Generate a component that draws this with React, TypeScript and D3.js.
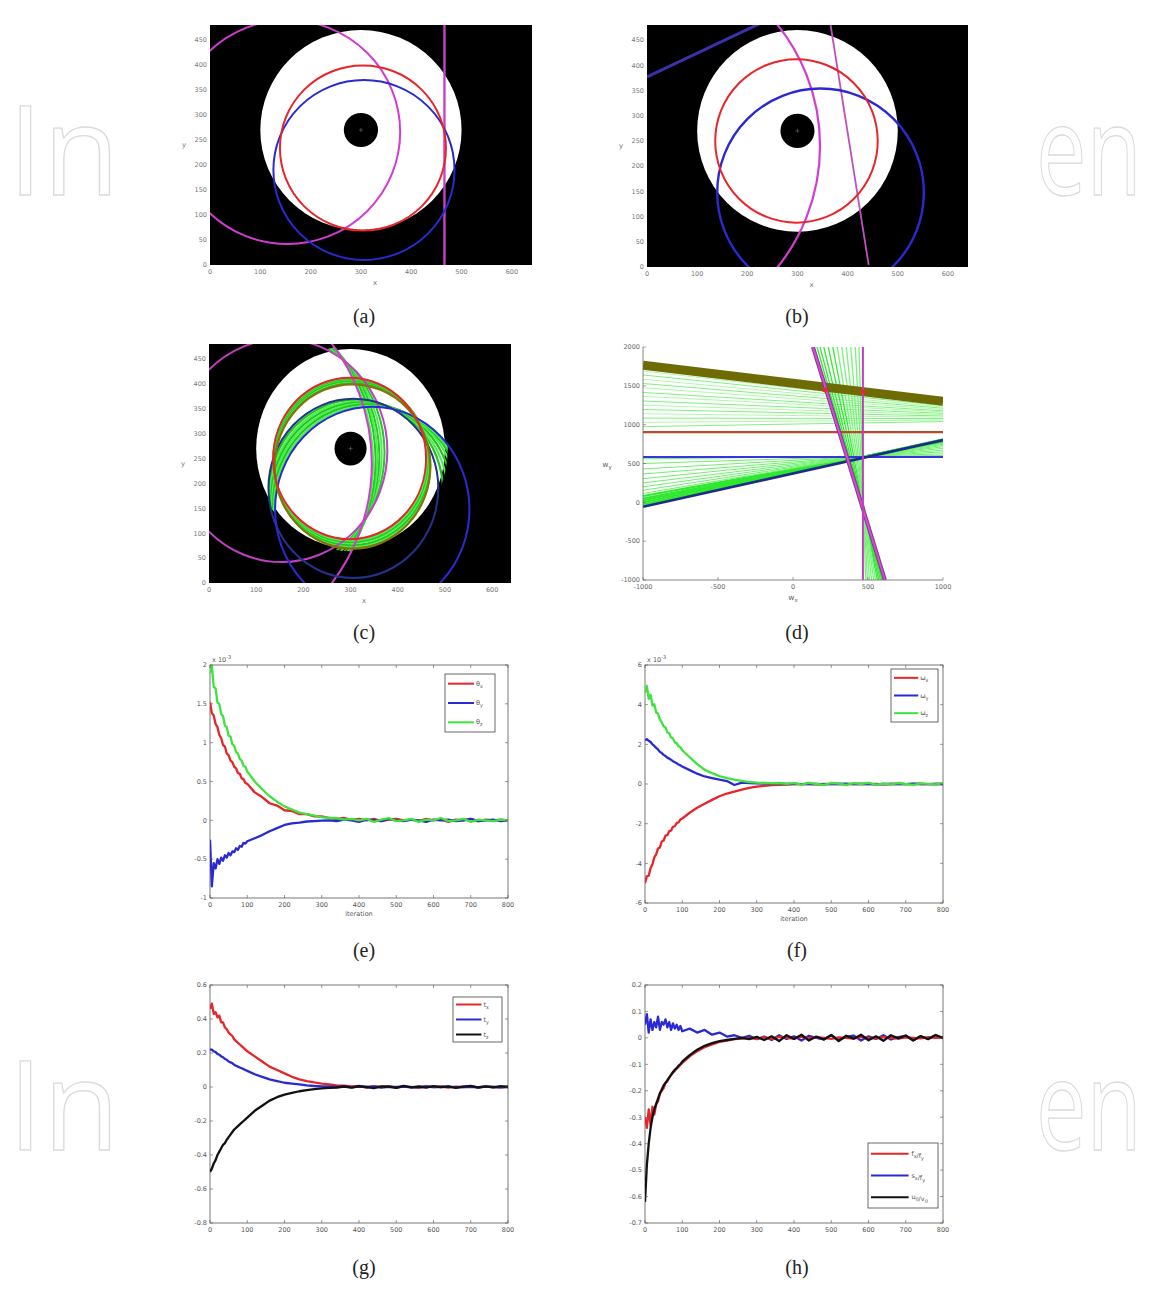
import * as d3 from "d3";

// sample positions (iteration index) shared by all convergence curves
const ITER = [0, 5, 10, 15, 20, 25, 30, 35, 40, 45, 50, 55, 60, 65, 70, 75, 80, 85, 90, 95, 100,
  120, 140, 160, 180, 200, 220, 240, 260, 280, 300, 320, 340, 360, 380, 400, 420, 440, 460, 480,
  500, 520, 540, 560, 580, 600, 620, 640, 660, 680, 700, 720, 740, 760, 780, 800];

// (e) values x 10^-3
const E_RED = [1.52, 1.38, 1.35, 1.24, 1.2, 1.1, 1.06, 0.97, 0.95, 0.86, 0.84, 0.77, 0.75, 0.69, 0.67, 0.61, 0.6, 0.54, 0.53, 0.48, 0.47,
  0.36, 0.3, 0.22, 0.19, 0.13, 0.12, 0.08, 0.08, 0.05, 0.05, 0.03, 0.02, 0.03, 0.01, 0.02, 0.0, 0.02, -0.01, 0.01, 0.02,
  0.0, 0.01, -0.01, 0.02, 0.0, 0.01, -0.02, 0.01, 0.0, 0.02, -0.01, 0.01, 0.0, 0.01, 0.0];
const E_BLUE = [-0.25, -0.85, -0.55, -0.62, -0.5, -0.56, -0.48, -0.52, -0.45, -0.48, -0.42, -0.45, -0.4, -0.41, -0.36, -0.38, -0.33, -0.34, -0.29, -0.3, -0.27,
  -0.23, -0.19, -0.14, -0.1, -0.06, -0.04, -0.03, -0.015, -0.01, -0.005, 0.0, -0.01, 0.01, 0.0, -0.02, 0.01, 0.0, -0.01, 0.02, 0.0,
  -0.01, 0.01, 0.0, -0.02, 0.01, 0.0, 0.01, -0.01, 0.0, 0.02, -0.01, 0.0, 0.01, -0.01, 0.0];
const E_GREEN = [1.9, 1.99, 1.72, 1.7, 1.52, 1.5, 1.37, 1.34, 1.22, 1.2, 1.09, 1.08, 0.98, 0.96, 0.88, 0.86, 0.79, 0.77, 0.7, 0.69, 0.63,
  0.5, 0.4, 0.31, 0.24, 0.18, 0.14, 0.1, 0.08, 0.06, 0.04, 0.03, 0.03, 0.01, 0.02, 0.0, 0.02, -0.02, 0.01, 0.03, -0.01,
  0.0, 0.02, -0.02, 0.01, 0.0, 0.03, -0.01, 0.0, 0.02, -0.02, 0.01, 0.0, -0.01, 0.01, 0.0];

// (f) values x 10^-3
const F_RED = [-5.0, -4.65, -4.62, -4.25, -4.05, -3.7, -3.55, -3.25, -3.2, -2.9, -2.85, -2.6, -2.58, -2.38, -2.35, -2.16, -2.13, -1.97, -1.93, -1.79, -1.74,
  -1.45, -1.2, -1.0, -0.8, -0.62, -0.48, -0.38, -0.28, -0.2, -0.13, -0.09, -0.06, -0.04, -0.03, -0.02, -0.01, 0.0, -0.02, 0.01, -0.01,
  0.0, -0.02, 0.01, 0.0, -0.01, 0.01, -0.02, 0.0, 0.01, -0.01, 0.0, 0.01, -0.01, 0.0, 0.0];
const F_BLUE = [2.2, 2.26, 2.18, 2.12, 2.0, 1.92, 1.82, 1.74, 1.62, 1.56, 1.47, 1.41, 1.33, 1.28, 1.22, 1.15, 1.1, 1.05, 0.98, 0.94, 0.88,
  0.7, 0.52, 0.38, 0.3, 0.22, 0.15, -0.05, 0.07, 0.05, 0.03, 0.02, 0.01, 0.03, 0.0, 0.02, -0.01, 0.01, 0.0, -0.02, 0.01,
  0.0, 0.02, -0.01, 0.0, 0.01, -0.02, 0.0, 0.01, 0.0, -0.01, 0.02, 0.0, -0.01, 0.01, 0.0];
const F_GREEN = [4.6, 4.95, 4.3, 4.5, 3.95, 4.02, 3.6, 3.55, 3.25, 3.12, 2.9, 2.86, 2.6, 2.56, 2.35, 2.3, 2.1, 2.06, 1.9, 1.85, 1.7,
  1.35, 1.0, 0.72, 0.55, 0.4, 0.3, 0.22, 0.16, 0.1, 0.07, 0.05, 0.03, 0.05, 0.01, 0.04, -0.03, 0.06, 0.0, -0.04, 0.05,
  0.02, -0.05, 0.04, 0.0, 0.06, -0.03, 0.02, -0.02, 0.05, 0.0, -0.04, 0.03, 0.01, -0.02, 0.04];

// (g)
const G_RED = [0.46, 0.49, 0.43, 0.44, 0.41, 0.42, 0.38, 0.38, 0.35, 0.34, 0.32, 0.31, 0.3, 0.28, 0.27, 0.26, 0.25, 0.24, 0.23, 0.22, 0.21,
  0.18, 0.15, 0.12, 0.1, 0.08, 0.06, 0.045, 0.035, 0.027, 0.02, 0.015, 0.01, 0.008, 0.004, 0.006, -0.003, 0.004, 0.0, 0.005, -0.004,
  0.003, 0.0, -0.005, 0.004, 0.0, 0.003, -0.004, 0.002, 0.0, 0.004, -0.003, 0.002, 0.0, -0.002, 0.003];
const G_BLUE = [0.22, 0.22, 0.21, 0.205, 0.195, 0.19, 0.18, 0.175, 0.165, 0.16, 0.15, 0.145, 0.14, 0.13, 0.125, 0.12, 0.115, 0.11, 0.105, 0.1, 0.095,
  0.075, 0.06, 0.045, 0.035, 0.025, 0.02, 0.015, 0.01, 0.006, 0.004, 0.003, 0.0, 0.004, -0.002, 0.002, 0.0, 0.003, -0.003, 0.001, 0.0,
  0.002, -0.002, 0.0, 0.003, -0.001, 0.0, 0.002, -0.002, 0.0, 0.001, -0.001, 0.002, 0.0, -0.002, 0.0];
const G_BLACK = [-0.5, -0.48, -0.45, -0.43, -0.4, -0.38, -0.36, -0.34, -0.33, -0.31, -0.295, -0.28, -0.265, -0.25, -0.24, -0.23, -0.22, -0.21, -0.2, -0.19, -0.18,
  -0.14, -0.11, -0.08, -0.06, -0.045, -0.035, -0.025, -0.018, -0.012, -0.008, -0.005, -0.003, 0.003, -0.004, 0.005, 0.0, -0.006, 0.004, 0.002, -0.005,
  0.006, -0.002, 0.003, -0.004, 0.005, -0.001, 0.004, -0.005, 0.002, 0.006, -0.003, 0.004, -0.002, 0.005, 0.0];

// (h)
const H_BLUE = [0.05, 0.09, 0.02, 0.07, 0.03, 0.06, 0.04, 0.08, 0.03, 0.06, 0.05, 0.07, 0.04, 0.06, 0.03, 0.055, 0.035, 0.05, 0.03, 0.045, 0.025,
  0.035, 0.02, 0.03, 0.012, 0.02, 0.005, 0.01, 0.0, 0.008, -0.005, 0.005, -0.008, 0.01, -0.004, 0.006, -0.01, 0.008, 0.0, -0.006, 0.01,
  -0.008, 0.004, 0.009, -0.01, 0.006, -0.004, 0.01, -0.006, 0.003, 0.008, -0.009, 0.005, -0.003, 0.01, 0.0];
const H_RED = [-0.3, -0.34, -0.27, -0.33, -0.26, -0.29, -0.25, -0.24, -0.21, -0.2, -0.19, -0.17, -0.165, -0.15, -0.14, -0.13, -0.125, -0.115, -0.11, -0.1, -0.095,
  -0.07, -0.05, -0.035, -0.025, -0.015, -0.01, -0.005, -0.003, 0.0, -0.004, 0.003, -0.005, 0.004, 0.0, -0.003, 0.005, -0.002, 0.003, 0.0, -0.004,
  0.002, 0.0, -0.003, 0.004, 0.0, -0.002, 0.003, 0.0, -0.003, 0.002, 0.0, -0.002, 0.003, 0.0, 0.001];
const H_BLACK = [-0.62, -0.48, -0.4, -0.34, -0.3, -0.27, -0.25, -0.23, -0.21, -0.195, -0.18, -0.17, -0.16, -0.15, -0.14, -0.13, -0.12, -0.115, -0.105, -0.1, -0.09,
  -0.065, -0.045, -0.03, -0.02, -0.012, -0.008, -0.004, 0.0, -0.005, 0.004, -0.008, 0.006, -0.012, 0.01, -0.004, 0.012, -0.01, 0.005, -0.006, 0.011,
  -0.012, 0.008, -0.003, 0.012, -0.009, 0.006, -0.011, 0.01, -0.002, 0.009, -0.01, 0.007, -0.005, 0.011, 0.0];

const E_LABELS = ["θ_x", "θ_y", "θ_z"];
const F_LABELS = ["ω_x", "ω_y", "ω_z"];
const G_LABELS = ["t_x", "t_y", "t_z"];
const H_LABELS = ["f_x/f_y", "s_x/f_y", "u_0/v_0"];

const SERIES_X_TICKS = [0, 100, 200, 300, 400, 500, 600, 700, 800];
const E_Y_TICKS = [-1, -0.5, 0, 0.5, 1, 1.5, 2];
const F_Y_TICKS = [-6, -4, -2, 0, 2, 4, 6];
const G_Y_TICKS = [-0.8, -0.6, -0.4, -0.2, 0, 0.2, 0.4, 0.6];
const H_Y_TICKS = [-0.7, -0.6, -0.5, -0.4, -0.3, -0.2, -0.1, 0, 0.1, 0.2];

// image panels: pixel coordinates in a 640 x 480 frame, [cx, cy, r]
const IMG_X_TICKS = [0, 100, 200, 300, 400, 500, 600];
const IMG_Y_TICKS = [0, 50, 100, 150, 200, 250, 300, 350, 400, 450];
const DISK = [300, 270, 200];
const HOLE = [300, 270, 34];
const RED_A = [304, 234, 165];
const BLUE_A = [306, 190, 180];
const MAG_A = [154, 266, 224];
const MAG_LINE_A = [466, 0, 466, 480];
const RED_B = [298, 250, 162];
const BLUE_B = [346, 148, 206];
const MAG_B = [-38, 240, 383];
const MAG_LINE_B = [366, 480, 442, 4];
const BLUE_LINE_B = [0, 377, 240, 490];
const RED_STEPS = [[303.5, 236, 165.5], [303, 239, 166], [302, 241, 165], [301, 244, 164.5], [300, 246, 163.5], [299, 248, 163]];
const BLUE_STEPS = [[312, 184, 184], [318, 177, 188], [324, 171, 192], [330, 165, 196], [336, 159, 200], [341, 153, 203]];
const MAG_STEPS = [[130, 262, 242], [104, 259, 262], [76, 255, 285], [46, 251, 311], [16, 247, 337], [-12, 243, 360]];

// (d) parameter space: wide lines [y at x=-1000, y at x=1000], steep lines [x at y=2000, x at y=-1000]
const D_X_TICKS = [-1000, -500, 0, 500, 1000];
const D_Y_TICKS = [-1000, -500, 0, 500, 1000, 1500, 2000];
const UPPER_FAN = [[1690, 1255], [1640, 1245], [1585, 1228], [1530, 1212], [1475, 1196], [1415, 1178], [1365, 1165],
  [1305, 1146], [1250, 1130], [1195, 1112], [1140, 1096], [1085, 1078], [1030, 1060], [975, 1040]];
const LOWER_FAN = [[-45, 812], [-25, 806], [0, 800], [25, 792], [50, 784], [80, 774], [115, 762], [155, 748],
  [200, 732], [250, 715], [305, 695], [365, 672], [430, 650], [500, 625], [560, 603]];
const STEEP_FAN = [[160, 600], [180, 592], [205, 583], [235, 572], [265, 562], [295, 550], [325, 538], [355, 524],
  [385, 510], [415, 496], [440, 484]];
const OLIVE_BAND = [1765, 1300];
const RED_LEVEL = [905, 905];
const BLUE_LEVEL = [585, 585];
const BLUE_SLANT = [-57, 802];
const MAG_SLANT = [133, 613];
const MAG_VERT = [466, 466];
const D_MARKS = [[213, 1445], [466, 1423]];

type Box = { x0: number; x1: number; y0: number; y1: number };
type Scale = d3.ScaleLinear<number, number>;

const TICK_FONT = "DejaVu Sans, sans-serif";

const ring = (x: Scale, y: Scale, c: number[], stroke: string, width: number, key?: string | number) => (
  <ellipse key={key} cx={x(c[0])} cy={y(c[1])} rx={x(c[0] + c[2]) - x(c[0])} ry={y(c[1]) - y(c[1] + c[2])}
    fill="none" stroke={stroke} strokeWidth={width} />
);

const seg = (x: Scale, y: Scale, s: number[], stroke: string, width: number, key?: string | number) => (
  <line key={key} x1={x(s[0])} y1={y(s[1])} x2={x(s[2])} y2={y(s[3])} stroke={stroke} strokeWidth={width} />
);

function subLabel(s: string, size: number) {
  const parts = s.split(/_(.)/);
  const out: any[] = [];
  parts.forEach((p, i) => {
    if (!p) return;
    if (i % 2 === 1) {
      out.push(<tspan key={i} dy={2} fontSize={size * 0.75}>{p}</tspan>);
      out.push(<tspan key={i + "r"} dy={-2}>{""}</tspan>);
    } else out.push(<tspan key={i}>{p}</tspan>);
  });
  return out;
}

function ImageFrame({ id, box, draw }: { id: string; box: Box; draw: (x: Scale, y: Scale) => any }) {
  const x = d3.scaleLinear().domain([0, 640]).range([box.x0, box.x1]);
  const y = d3.scaleLinear().domain([0, 480]).range([box.y1, box.y0]);
  const cx = x(HOLE[0]);
  const cy = y(HOLE[1]);
  return (
    <g>
      <clipPath id={id}>
        <rect x={box.x0} y={box.y0} width={box.x1 - box.x0} height={box.y1 - box.y0} />
      </clipPath>
      <g clipPath={`url(#${id})`}>
        <rect x={box.x0} y={box.y0} width={box.x1 - box.x0} height={box.y1 - box.y0} fill="#000" />
        <ellipse cx={x(DISK[0])} cy={y(DISK[1])} rx={x(DISK[0] + DISK[2]) - x(DISK[0])} ry={y(DISK[1]) - y(DISK[1] + DISK[2])} fill="#fff" />
        <ellipse cx={cx} cy={cy} rx={x(HOLE[0] + HOLE[2]) - cx} ry={cy - y(HOLE[1] + HOLE[2])} fill="#000" />
        <path d={`M${cx - 2},${cy}H${cx + 2}M${cx},${cy - 2}V${cy + 2}`} stroke="#555" strokeWidth={0.8} />
        {draw(x, y)}
      </g>
      <g fontFamily={TICK_FONT} fontSize={6.5} fill="#777">
        {IMG_X_TICKS.map((t) => (
          <text key={t} x={x(t)} y={box.y1 + 9} textAnchor="middle">{t}</text>
        ))}
        {IMG_Y_TICKS.map((t) => (
          <text key={t} x={box.x0 - 3} y={y(t) + 2.3} textAnchor="end">{t}</text>
        ))}
        <text x={(box.x0 + box.x1) / 2 + 4} y={box.y1 + 20} textAnchor="middle" fontSize={7}>x</text>
        <text x={box.x0 - 26} y={(box.y0 + box.y1) / 2 + 2} textAnchor="middle" fontSize={7}>y</text>
      </g>
    </g>
  );
}

function HoughPanel() {
  const box: Box = { x0: 643, x1: 943, y0: 347, y1: 580 };
  const x = d3.scaleLinear().domain([-1000, 1000]).range([box.x0, box.x1]);
  const y = d3.scaleLinear().domain([-1000, 2000]).range([box.y1, box.y0]);
  const wide = (p: number[], stroke: string, w: number, key?: string | number) => (
    <line key={key} x1={x(-1000)} y1={y(p[0])} x2={x(1000)} y2={y(p[1])} stroke={stroke} strokeWidth={w} />
  );
  const steep = (p: number[], stroke: string, w: number, key?: string | number) => (
    <line key={key} x1={x(p[0])} y1={y(2000)} x2={x(p[1])} y2={y(-1000)} stroke={stroke} strokeWidth={w} />
  );
  return (
    <g>
      <clipPath id="clip-d">
        <rect x={box.x0} y={box.y0} width={box.x1 - box.x0} height={box.y1 - box.y0} />
      </clipPath>
      <g clipPath="url(#clip-d)">
        {UPPER_FAN.map((p, i) => wide(p, i % 2 ? "#6ff06f" : "#a8f7a0", 0.9, "u" + i))}
        {LOWER_FAN.map((p, i) => wide(p, i < 6 ? "#2ee82e" : "#6ff06f", i < 6 ? 2 : 1, "l" + i))}
        {STEEP_FAN.map((p, i) => steep(p, i < 5 ? "#35e835" : "#7af27a", 1.3, "s" + i))}
        {wide(OLIVE_BAND, "#6e6a04", 9)}
        {wide(RED_LEVEL, "#b84a2a", 2.2)}
        {wide(BLUE_LEVEL, "#3636dc", 2)}
        {wide(BLUE_SLANT, "#1e2a8c", 2.6)}
        {steep(MAG_SLANT, "#7a3d86", 4)}
        {steep(MAG_SLANT, "#dd44dd", 2)}
        {steep(MAG_VERT, "#c03ec0", 2)}
        {D_MARKS.map((m, i) => (
          <circle key={i} cx={x(m[0])} cy={y(m[1])} r={2.5} fill="#e8283a" />
        ))}
      </g>
      <line x1={box.x0} y1={box.y0} x2={box.x0} y2={box.y1} stroke="#666" strokeWidth={0.8} />
      <line x1={box.x0} y1={box.y1} x2={box.x1} y2={box.y1} stroke="#666" strokeWidth={0.8} />
      <g fontFamily={TICK_FONT} fontSize={6.5} fill="#666">
        {D_X_TICKS.map((t) => (
          <g key={t}>
            <line x1={x(t)} x2={x(t)} y1={box.y1} y2={box.y1 - 3} stroke="#666" strokeWidth={0.6} />
            <text x={x(t)} y={box.y1 + 9} textAnchor="middle">{t}</text>
          </g>
        ))}
        {D_Y_TICKS.map((t) => (
          <g key={t}>
            <line x1={box.x0} x2={box.x0 + 3} y1={y(t)} y2={y(t)} stroke="#666" strokeWidth={0.6} />
            <text x={box.x0 - 3} y={y(t) + 2.3} textAnchor="end">{t}</text>
          </g>
        ))}
        <text x={(box.x0 + box.x1) / 2} y={box.y1 + 20} textAnchor="middle" fontSize={7.5}>{subLabel("w_x", 7.5)}</text>
        <text x={box.x0 - 36} y={(box.y0 + box.y1) / 2 + 3} textAnchor="middle" fontSize={7.5}>{subLabel("w_y", 7.5)}</text>
      </g>
    </g>
  );
}

function SeriesPanel(props: {
  id: string;
  box: Box;
  yDomain: [number, number];
  yTicks: number[];
  series: { values: number[]; color: string }[];
  legendOrder: number[];
  labels: string[];
  legend: { x: number; y: number; w: number; h: number };
  exponent?: boolean;
  xlabel?: boolean;
}) {
  const { id, box, yDomain, yTicks, series, legendOrder, labels, legend, exponent, xlabel } = props;
  const x = d3.scaleLinear().domain([0, 800]).range([box.x0, box.x1]);
  const y = d3.scaleLinear().domain(yDomain).range([box.y1, box.y0]);
  const line = d3.line<number>().x((_, i) => x(ITER[i])).y((v) => y(v));
  const rowH = legend.h / labels.length;
  return (
    <g>
      <clipPath id={id}>
        <rect x={box.x0} y={box.y0} width={box.x1 - box.x0} height={box.y1 - box.y0} />
      </clipPath>
      <rect x={box.x0} y={box.y0} width={box.x1 - box.x0} height={box.y1 - box.y0} fill="#fff" stroke="#555" strokeWidth={0.8} />
      <g clipPath={`url(#${id})`}>
        {series.map((s, i) => (
          <path key={i} d={line(s.values) ?? ""} fill="none" stroke={s.color} strokeWidth={2.3} strokeLinejoin="round" />
        ))}
      </g>
      <g stroke="#555" strokeWidth={0.6}>
        {SERIES_X_TICKS.map((t) => (
          <g key={t}>
            <line x1={x(t)} x2={x(t)} y1={box.y1} y2={box.y1 - 3} />
            <line x1={x(t)} x2={x(t)} y1={box.y0} y2={box.y0 + 3} />
          </g>
        ))}
        {yTicks.map((t) => (
          <g key={t}>
            <line x1={box.x0} x2={box.x0 + 3} y1={y(t)} y2={y(t)} />
            <line x1={box.x1} x2={box.x1 - 3} y1={y(t)} y2={y(t)} />
          </g>
        ))}
      </g>
      <g fontFamily={TICK_FONT} fontSize={6.5} fill="#555">
        {SERIES_X_TICKS.map((t) => (
          <text key={t} x={x(t)} y={box.y1 + 9} textAnchor="middle">{t}</text>
        ))}
        {yTicks.map((t) => (
          <text key={t} x={box.x0 - 3} y={y(t) + 2.3} textAnchor="end">{t}</text>
        ))}
        {exponent && (
          <text x={box.x0 + 2} y={box.y0 - 3} fontSize={6.5}>
            x 10<tspan dy={-3} fontSize={5}>-3</tspan>
          </text>
        )}
        {xlabel && (
          <text x={(box.x0 + box.x1) / 2} y={box.y1 + 18} textAnchor="middle" fontSize={6.5}>iteration</text>
        )}
      </g>
      <rect x={legend.x} y={legend.y} width={legend.w} height={legend.h} fill="#fff" stroke="#444" strokeWidth={0.8} />
      {legendOrder.map((si, i) => {
        const cy = legend.y + rowH * (i + 0.5);
        return (
          <g key={i}>
            <line x1={legend.x + 3} x2={legend.x + legend.w * 0.58} y1={cy} y2={cy} stroke={series[si].color} strokeWidth={2} />
            <text x={legend.x + legend.w * 0.62} y={cy + 2} fontFamily={TICK_FONT} fontSize={6.5} fill="#555">
              {subLabel(labels[i], 6.5)}
            </text>
          </g>
        );
      })}
    </g>
  );
}

const RED = "#e6262a";
const BLUE = "#2a2ad2";
const GREEN = "#3ce43c";
const BLACK = "#111";
const MAGENTA = "#d23cd2";

export default function App() {
  const caption = (label: string, cx: number, base: number) => (
    <text x={cx} y={base} textAnchor="middle" fontFamily="Liberation Serif, serif" fontSize={20} fill="#222">{label}</text>
  );
  const mark = (base: number) => (
    <g fontFamily="Open Sans, sans-serif" fontSize={125} fill="none" stroke="#dadada" strokeWidth={1.3}>
      <text x={8} y={base}>In</text>
      <text transform={`translate(1036,${base}) scale(0.72,1)`}>en</text>
    </g>
  );
  return (
    <svg width={1150} height={1290} style={{ position: "absolute", left: 0, top: 0, background: "#fff" }}>
      <rect width={1150} height={1290} fill="#fff" />
      {mark(195)}
      {mark(1150)}

      <ImageFrame id="clip-a" box={{ x0: 210, x1: 532, y0: 25, y1: 265 }} draw={(x, y) => (
        <g>
          {ring(x, y, MAG_A, MAGENTA, 2)}
          {seg(x, y, MAG_LINE_A, "#c842c8", 2.4)}
          {ring(x, y, BLUE_A, BLUE, 2)}
          {ring(x, y, RED_A, RED, 2)}
        </g>
      )} />

      <ImageFrame id="clip-b" box={{ x0: 647, x1: 968, y0: 25, y1: 267 }} draw={(x, y) => (
        <g>
          {seg(x, y, BLUE_LINE_B, "#3a32a8", 3)}
          {ring(x, y, MAG_B, MAGENTA, 2.2)}
          {seg(x, y, MAG_LINE_B, "#c050c0", 1.8)}
          {ring(x, y, BLUE_B, BLUE, 2.4)}
          {ring(x, y, RED_B, RED, 2)}
        </g>
      )} />

      <ImageFrame id="clip-c" box={{ x0: 209, x1: 511, y0: 344, y1: 583 }} draw={(x, y) => (
        <g>
          <clipPath id="clip-c-disk">
            <ellipse cx={x(DISK[0])} cy={y(DISK[1])} rx={x(DISK[0] + DISK[2] + 6) - x(DISK[0])} ry={y(DISK[1]) - y(DISK[1] + DISK[2] + 6)} />
          </clipPath>
          <g clipPath="url(#clip-c-disk)">
            {MAG_STEPS.map((c, i) => ring(x, y, c, i % 2 ? "#4cf04c" : "#24c824", 2, "m" + i))}
            {BLUE_STEPS.map((c, i) => ring(x, y, c, i % 2 ? "#4cf04c" : "#22c422", 2.2, "b" + i))}
            {RED_STEPS.map((c, i) => ring(x, y, c, i % 2 ? "#4cf04c" : "#22c422", 2, "r" + i))}
          </g>
          {ring(x, y, MAG_A, "#c040c0", 2)}
          {ring(x, y, MAG_B, MAGENTA, 2)}
          {ring(x, y, BLUE_A, "#22338c", 2)}
          {ring(x, y, BLUE_B, BLUE, 2)}
          {ring(x, y, RED_A, "#86740a", 2.2)}
          {ring(x, y, RED_B, RED, 2)}
        </g>
      )} />

      <HoughPanel />

      <SeriesPanel id="clip-e" box={{ x0: 210, x1: 508, y0: 665, y1: 898 }} yDomain={[-1, 2]} yTicks={E_Y_TICKS}
        series={[{ values: E_RED, color: RED }, { values: E_BLUE, color: BLUE }, { values: E_GREEN, color: GREEN }]}
        legendOrder={[0, 1, 2]} labels={E_LABELS} legend={{ x: 445, y: 674, w: 50, h: 58 }} exponent xlabel />

      <SeriesPanel id="clip-f" box={{ x0: 645, x1: 943, y0: 665, y1: 903 }} yDomain={[-6, 6]} yTicks={F_Y_TICKS}
        series={[{ values: F_RED, color: RED }, { values: F_BLUE, color: BLUE }, { values: F_GREEN, color: GREEN }]}
        legendOrder={[0, 1, 2]} labels={F_LABELS} legend={{ x: 891, y: 669, w: 47, h: 53 }} exponent xlabel />

      <SeriesPanel id="clip-g" box={{ x0: 210, x1: 508, y0: 985, y1: 1223 }} yDomain={[-0.8, 0.6]} yTicks={G_Y_TICKS}
        series={[{ values: G_RED, color: RED }, { values: G_BLUE, color: BLUE }, { values: G_BLACK, color: BLACK }]}
        legendOrder={[0, 1, 2]} labels={G_LABELS} legend={{ x: 453, y: 997, w: 49, h: 45 }} />

      <SeriesPanel id="clip-h" box={{ x0: 645, x1: 943, y0: 985, y1: 1223 }} yDomain={[-0.7, 0.2]} yTicks={H_Y_TICKS}
        series={[{ values: H_BLUE, color: BLUE }, { values: H_RED, color: RED }, { values: H_BLACK, color: BLACK }]}
        legendOrder={[1, 0, 2]} labels={H_LABELS} legend={{ x: 868, y: 1143, w: 70, h: 65 }} />

      {caption("(a)", 364, 323)}
      {caption("(b)", 797, 323)}
      {caption("(c)", 364, 639)}
      {caption("(d)", 797, 639)}
      {caption("(e)", 364, 957)}
      {caption("(f)", 797, 957)}
      {caption("(g)", 364, 1274)}
      {caption("(h)", 797, 1274)}
    </svg>
  );
}
